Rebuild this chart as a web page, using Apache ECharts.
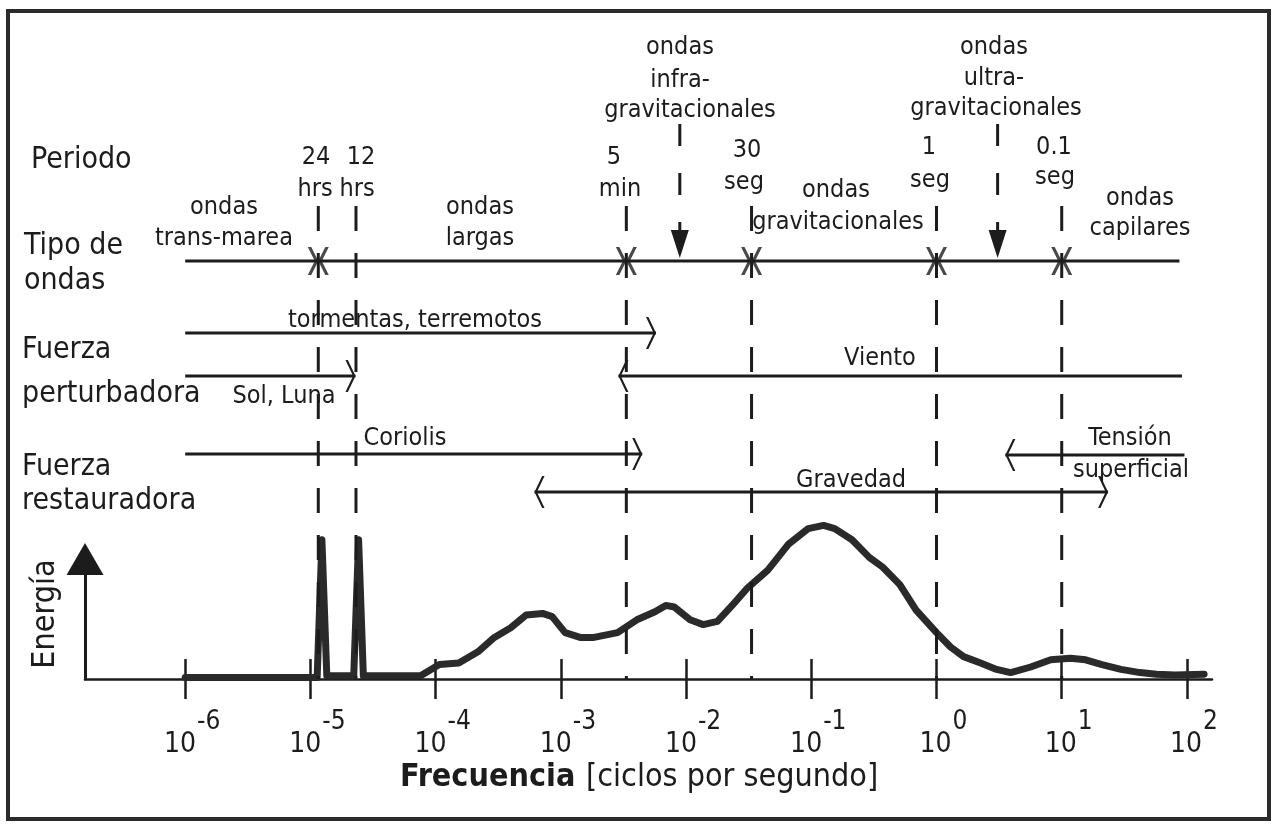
<!DOCTYPE html>
<html>
<head>
<meta charset="utf-8">
<script src="https://cdn.jsdelivr.net/npm/echarts@6/dist/echarts.min.js"></script>
<style>
  html, body { margin: 0; padding: 0; background: #fff; }
  #chart { width: 1276px; height: 824px; }
</style>
</head>
<body>
<div id="chart"></div>
<script>
// energy spectrum, x = log10(frequency in Hz)
const freqExp = [-6.0, -4.946, -4.908, -4.869, -4.654, -4.615, -4.577, -4.12, -3.97, -3.815, -3.662,
  -3.531, -3.4, -3.277, -3.146, -3.069, -2.966, -2.846, -2.735, -2.547, -2.393, -2.248, -2.162,
  -2.094, -1.968, -1.863, -1.75, -1.621, -1.508, -1.347, -1.185, -1.024, -0.902, -0.813, -0.675,
  -0.537, -0.431, -0.293, -0.163, 0, 0.112, 0.216, 0.352, 0.48, 0.592, 0.752, 0.912, 1.069, 1.191,
  1.321, 1.473, 1.626, 1.756, 1.908, 2.137]
const energy = [1, 1, 87, 2, 2, 87, 2, 2, 9, 10, 17,
  26, 32, 40, 41, 39, 29, 26, 26, 29, 37, 42, 46,
  45, 37, 34, 36, 47, 57, 68, 84, 94, 96, 94, 87,
  76, 70, 59, 43, 29, 20, 14, 10, 6, 4, 7.5, 12, 13, 12,
  9, 6, 4, 3, 2.5, 3]

const tickExps = [-6, -5, -4, -3, -2, -1, 0, 1, 2]

// period boundaries: 24 hrs, 12 hrs, 5 min, 30 seg, 1 seg, 0.1 seg
const periodExps = [-4.937, -4.636, -2.477, -1.477, 0, 1]
const boundaryExps = [-4.937, -2.477, -1.477, 0, 1]
const waveTypeRange = [-6.0, 1.94]
const downArrowExps = [-2.05, 0.488] // infra- / ultra-gravitacionales

const forceNames = ['tormentas, terremotos', 'Sol, Luna', 'Viento', 'Coriolis', 'Tensión superficial', 'Gravedad']
const forceFrom = [-6.0, -6.0, 1.96, -6.0, 1.98, -3.21]
const forceTo = [-2.24, -4.64, -2.54, -2.35, 0.55, 1.37]
const forceBoth = [false, false, false, false, false, true]

const INK = '#1c1c1c'
const FONT = '"DejaVu Sans Condensed", "DejaVu Sans", sans-serif'
const X_MIN = -6.8
const X_MAX = 2.2

// layout rows of the annotation panel (pixels from top)
const ROW = { tipo: 261, dashTop: 206, base: 679, arrowTop: 124, arrowHead: 244 }
const forceRows = [333, 376, 376, 454, 455, 492]

const chevR = 'path://M0,0 L8,16 L0,32 L2.5,32 L10.5,16 L2.5,0 Z'
const chevL = 'path://M10.5,0 L2.5,16 L10.5,32 L8,32 L0,16 L8,0 Z'
const pairMark = 'path://M0,0 L7,14 L0,28 L3.5,28 L10.5,14 L3.5,0 Z M21,0 L14,14 L21,28 L17.5,28 L10.5,14 L17.5,0 Z'

const head = (e, row, dir) => ({
  value: [e, row],
  symbol: dir > 0 ? chevR : chevL,
  symbolSize: [10, 32],
  symbolOffset: [dir > 0 ? -5 : 5, 0],
})

const series = [
  {
    type: 'line',
    xAxisIndex: 0,
    yAxisIndex: 0,
    data: freqExp.map((e, i) => [e, energy[i]]),
    symbol: 'none',
    clip: false,
    lineStyle: { color: '#2a2a2a', width: 7, join: 'round', cap: 'round' },
    silent: true,
  },
]

periodExps.forEach(e => {
  series.push({
    type: 'line',
    xAxisIndex: 2,
    yAxisIndex: 2,
    data: [[e, ROW.dashTop], [e, ROW.base]],
    symbol: 'none',
    lineStyle: { color: INK, width: 3, type: [25, 22] },
    silent: true,
  })
})

series.push({
  type: 'line',
  xAxisIndex: 2,
  yAxisIndex: 2,
  data: waveTypeRange.map(e => [e, ROW.tipo]),
  symbol: 'none',
  lineStyle: { color: INK, width: 3 },
  silent: true,
})

series.push({
  type: 'scatter',
  xAxisIndex: 2,
  yAxisIndex: 2,
  data: boundaryExps.map(e => [e, ROW.tipo]),
  symbol: pairMark,
  symbolSize: [21, 28],
  itemStyle: { color: INK },
  silent: true,
})

downArrowExps.forEach(e => {
  series.push({
    type: 'line',
    xAxisIndex: 2,
    yAxisIndex: 2,
    showSymbol: true,
    data: [
      { value: [e, ROW.arrowTop], symbol: 'none' },
      { value: [e, ROW.arrowHead], symbol: 'triangle', symbolSize: [18, 28], symbolRotate: 180 },
    ],
    itemStyle: { color: INK },
    lineStyle: { color: INK, width: 3, type: [22, 27] },
    silent: true,
  })
})

forceNames.forEach((name, i) => {
  const a = forceFrom[i]
  const b = forceTo[i]
  const dir = b > a ? 1 : -1
  const row = forceRows[i]
  series.push({
    type: 'line',
    name,
    xAxisIndex: 2,
    yAxisIndex: 2,
    showSymbol: true,
    data: [forceBoth[i] ? head(a, row, -dir) : { value: [a, row], symbol: 'none' }, head(b, row, dir)],
    itemStyle: { color: INK },
    lineStyle: { color: INK, width: 3 },
    silent: true,
  })
})

const texts = [
  ['Periodo', 31, 160, 30, 'left'],
  ['Tipo de', 24, 246, 30, 'left'],
  ['ondas', 24, 281, 30, 'left'],
  ['Fuerza', 22, 350, 30, 'left'],
  ['perturbadora', 22, 394, 30, 'left'],
  ['Fuerza', 22, 467, 30, 'left'],
  ['restauradora', 22, 501, 30, 'left'],
  ['24', 316, 157, 25], ['12', 361, 157, 25], ['hrs', 315, 189, 25], ['hrs', 357, 189, 25],
  ['5', 614, 157, 25], ['min', 620, 189, 25],
  ['30', 747, 150, 25], ['seg', 744, 182, 25],
  ['1', 929, 147, 25], ['seg', 930, 180, 25],
  ['0.1', 1054, 147, 25], ['seg', 1055, 177, 25],
  ['ondas', 680, 47, 25], ['infra-', 680, 80, 25], ['gravitacionales', 690, 110, 25],
  ['ondas', 994, 47, 25], ['ultra-', 994, 78, 25], ['gravitacionales', 996, 108, 25],
  ['ondas', 224, 207, 25], ['trans-marea', 224, 238, 25],
  ['ondas', 480, 207, 25], ['largas', 480, 238, 25],
  ['ondas', 836, 190, 25], ['gravitacionales', 838, 222, 25],
  ['ondas', 1140, 198, 25], ['capilares', 1140, 228, 25],
  ['tormentas, terremotos', 415, 320, 25],
  ['Sol, Luna', 284, 396, 25],
  ['Viento', 880, 358, 25],
  ['Coriolis', 405, 438, 25],
  ['Tensión', 1130, 438, 25], ['superficial', 1131, 470, 25],
  ['Gravedad', 851, 480, 25],
  ['Frecuencia', 400, 778, 32, 'left', 'bold'],
  ['[ciclos por segundo]', 586, 778, 32, 'left'],
]

const graphic = [
  {
    type: 'rect',
    shape: { x: 8, y: 11, width: 1261, height: 808 },
    style: { fill: 'none', stroke: '#2b2b2b', lineWidth: 4 },
    silent: true,
  },
  {
    type: 'text',
    x: 46,
    y: 614,
    rotation: Math.PI / 2,
    style: { text: 'Energía', font: '32px ' + FONT, fill: INK, align: 'center', verticalAlign: 'middle' },
    silent: true,
  },
  ...texts.map(([text, x, y, size, align, weight]) => ({
    type: 'text',
    x,
    y,
    style: {
      text,
      font: (weight || 'normal') + ' ' + size + 'px ' + FONT,
      fill: INK,
      align: align || 'center',
      verticalAlign: 'middle',
    },
    silent: true,
  })),
]

const option = {
  animation: false,
  backgroundColor: '#ffffff',
  textStyle: { fontFamily: FONT },
  grid: [
    { left: 85, right: 64, top: 519, bottom: 145 },
    { left: 85, right: 64, top: 559, bottom: 145 },
    { left: 85, right: 64, top: 0, bottom: 145 },
  ],
  xAxis: [
    {
      gridIndex: 0,
      type: 'value',
      min: X_MIN,
      max: X_MAX,
      axisLine: { show: true, onZero: false, lineStyle: { color: INK, width: 2.5 } },
      axisTick: { show: true, customValues: tickExps, length: 20, lineStyle: { color: INK, width: 2.5 } },
      axisLabel: {
        show: true,
        customValues: tickExps,
        margin: 40,
        color: INK,
        formatter: v => '{sp| }{b|10}{s|' + Math.round(v) + '}',
        rich: {
          sp: { width: 14 },
          b: { fontSize: 28, lineHeight: 30, padding: [22, 0, 0, 0], fontFamily: FONT, color: INK },
          s: { fontSize: 26, lineHeight: 28, padding: [0, 0, 24, 1], fontFamily: FONT, color: INK },
        },
      },
      splitLine: { show: false },
    },
    {
      gridIndex: 1,
      type: 'value',
      min: X_MIN,
      max: X_MAX,
      axisLine: { show: false, onZero: false },
      axisTick: { show: true, inside: true, customValues: tickExps, length: 20, lineStyle: { color: INK, width: 2.5 } },
      axisLabel: { show: false },
      splitLine: { show: false },
    },
    { gridIndex: 2, type: 'value', min: X_MIN, max: X_MAX, show: false },
  ],
  yAxis: [
    { gridIndex: 0, type: 'value', min: 0, max: 100, show: false },
    {
      gridIndex: 1,
      type: 'value',
      min: 0,
      max: 1,
      axisLine: {
        show: true,
        onZero: false,
        symbol: ['none', 'triangle'],
        symbolSize: [37, 32],
        lineStyle: { color: INK, width: 3 },
      },
      axisTick: { show: false },
      axisLabel: { show: false },
      splitLine: { show: false },
    },
    { gridIndex: 2, type: 'value', min: 0, max: 679, inverse: true, show: false },
  ],
  graphic,
  series,
}

const chart = echarts.init(document.getElementById('chart'))
chart.setOption(option)
</script>
</body>
</html>
